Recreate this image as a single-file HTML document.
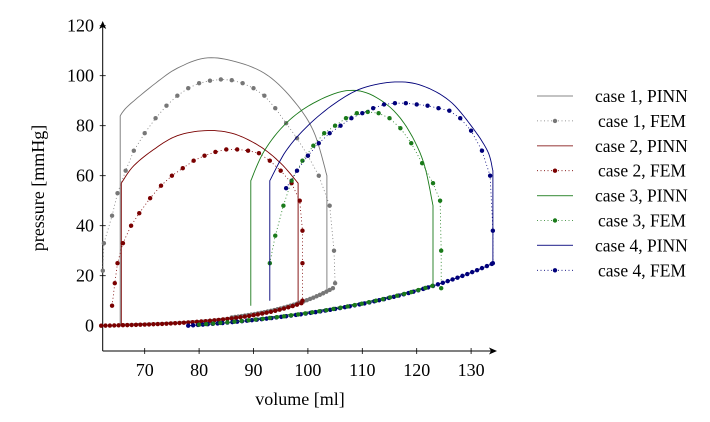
<!DOCTYPE html>
<html><head><meta charset="utf-8"><style>
body{margin:0;background:#fff}
svg{display:block;font-family:"Liberation Serif",serif}
</style></head><body>
<svg id="s" width="710" height="422" viewBox="0 0 710 422" xmlns="http://www.w3.org/2000/svg">
<g stroke="#000" stroke-width="1" fill="none">
<line x1="102.7" y1="351" x2="492" y2="351"/>
<line x1="102.7" y1="351" x2="102.7" y2="26"/>
</g>
<polygon points="497,351 489,347.5 491,351 489,354.5" fill="#000"/>
<polygon points="102.7,21 99.2,29 102.7,27 106.2,29" fill="#000"/>
<g id="ticks" stroke="#000" stroke-width="0.8"></g>
<g font-size="18" text-anchor="end" id="yl"></g>
<g font-size="18" text-anchor="middle" id="xl"></g>
<text x="300" y="405" font-size="18" text-anchor="middle">volume [ml]</text>
<text transform="translate(44,188) rotate(-90)" font-size="18" text-anchor="middle">pressure [mmHg]</text>
<g id="plot"></g>
<g id="leg" font-size="17.5"></g>
</svg>
<script>
const NS="http://www.w3.org/2000/svg";
const X=v=>144.7+(v-70)*5.44, Y=p=>325.7-p*2.5;
function el(t,a,par){const e=document.createElementNS(NS,t);for(const k in a)e.setAttribute(k,a[k]);(par||document.getElementById('plot')).appendChild(e);return e;}
const tk=document.getElementById('ticks');
for(let p=0;p<=120;p+=20){el('line',{x1:99.7,x2:105.7,y1:Y(p),y2:Y(p)},tk);const t=el('text',{x:94,y:Y(p)+6},document.getElementById('yl'));t.textContent=p;}
for(let v=70;v<=130;v+=10){el('line',{x1:X(v),x2:X(v),y1:348,y2:354},tk);const t=el('text',{x:X(v),y:376},document.getElementById('xl'));t.textContent=v;}
function cr(pts,n=8){const o=[];for(let i=0;i<pts.length-1;i++){const p0=pts[Math.max(0,i-1)],p1=pts[i],p2=pts[i+1],p3=pts[Math.min(pts.length-1,i+2)];for(let j=0;j<n;j++){const t=j/n,t2=t*t,t3=t2*t;const f=(a,b,c,d)=>0.5*((2*b)+(-a+c)*t+(2*a-5*b+4*c-d)*t2+(-a+3*b-3*c+d)*t3);o.push([f(p0[0],p1[0],p2[0],p3[0]),f(p0[1],p1[1],p2[1],p3[1])]);}}o.push(pts[pts.length-1]);return o;}
const fill1=v=>0.5*(Math.exp(0.08*(v-62))-1), fill2=v=>4.66*(Math.exp(0.033*(v-78))-1);
function line(pts,c){el('polyline',{points:pts.map(p=>X(p[0]).toFixed(1)+','+Y(p[1]).toFixed(1)).join(' '),fill:'none',stroke:c,'stroke-width':0.9});}
function dots(pts,c){el('polyline',{points:pts.map(p=>X(p[0]).toFixed(1)+','+Y(p[1]).toFixed(1)).join(' '),fill:'none',stroke:c,'stroke-width':0.8,'stroke-dasharray':'1 2.5'});pts.forEach(p=>el('circle',{cx:X(p[0]),cy:Y(p[1]),r:2.2,fill:c}));}
function rng(a,b,s,f){const o=[];for(let v=a;v<=b+1e-6;v+=s)o.push([v,f(v)]);return o;}
const G='#777',R='#7a0000',Gr='#1a7a1a',B='#00007a';
line(cr([[65.5,84],[67,88],[72,97],[76,103],[81,107],[86,106],[92,101],[97,91],[101,78],[103.5,60]]).concat([[103.5,14]]).concat(rng(65.5,103.5,0.5,v=>fill1(v)+0.5).reverse()).concat([[65.5,84]]),G);
dots([[62.3,22],[62.5,33],[64,44],[65,53],[66.5,62],[68,70],[70,77],[72,83],[74,88],[76,92],[78,95],[80,97],[82,98],[84,98.5],[86,98.2],[88,97],[90,95],[92,92],[94,87],[96,81],[98,75],[100,68],[102,60],[104,48],[104.8,30],[105,17]],G);
dots(rng(86,105,0.6,v=>fill1(v)+0.4),G);
line([[65.7,0],[65.7,57]].concat(cr([[65.7,57],[68,64],[72,71],[76,76],[81,78],[86,77],[91,72],[95,65],[98.2,57]])).concat([[98.2,10]]).concat(rng(65.7,98.2,0.5,v=>fill1(v)).reverse()),R);
dots([[64,8],[64.5,17],[65,25],[66,33],[67.5,40],[69,45],[71,51],[73,56],[75,60],[77,63],[79,66],[81,68],[83,69.5],[85,70.5],[87,70.5],[89,70],[91,69],[93,66],[95,62],[97,57],[98.5,50],[99,38],[99,25],[99,10]],R);
dots(rng(62,99,0.8,fill1),R);
line([[89.5,8],[89.5,58]].concat(cr([[89.5,58],[92,70],[96,81],[101,89],[107,94],[112,92],[117,83],[121,67],[123,48]])).concat([[123,15]]).concat(rng(89.5,123,0.5,v=>fill2(v)+0.5).reverse()),Gr);
dots([[93,25],[94,36],[95.5,48],[97,58],[99,66],[101,72],[103,77],[105,80],[107,83],[109,85],[111,85.5],[113,85],[115,83],[117,79],[119,73],[121,65],[123,57],[124.3,50],[124.5,30],[124.5,15]],Gr);
line([[93,10],[93,58]].concat(cr([[93,58],[96,70],[100,80],[105,89],[110,95],[116,97.5],[121,96],[126,90],[130,80],[133,70],[134,62]])).concat([[134,25]]).concat(rng(78,134,0.5,fill2).reverse()),B);
dots([[96,55],[98,62],[100,68],[102,73],[104,77],[106,80],[108,83],[110,85],[112,87],[114,88.5],[116,89],[118,89],[120,88.5],[122,88],[124,87],[126,86],[128,83],[130,78],[132,70],[133.5,60],[134,38],[134,25]],B);
dots(rng(78,134,0.9,fill2),B);
dots(rng(80,124,1.3,v=>fill2(v)+0.1),Gr);
const L=document.getElementById('leg');
const items=[['case 1, PINN',G,0],['case 1, FEM',G,1],['case 2, PINN',R,0],['case 2, FEM',R,1],['case 3, PINN',Gr,0],['case 3, FEM',Gr,1],['case 4, PINN',B,0],['case 4, FEM',B,1]];
items.forEach((it,i)=>{const y=96+i*24.9;
 if(it[2]){el('line',{x1:537,x2:573,y1:y,y2:y,stroke:it[1],'stroke-width':0.8,'stroke-dasharray':'1 2.5'},L);el('circle',{cx:555,cy:y,r:2.2,fill:it[1]},L);}
 else el('line',{x1:537,x2:573,y1:y,y2:y,stroke:it[1],'stroke-width':1.2,opacity:0.7},L);
 const t=el('text',{x:it[2]?598:595,y:y+6},L);t.textContent=it[0];});
</script>
</body></html>
